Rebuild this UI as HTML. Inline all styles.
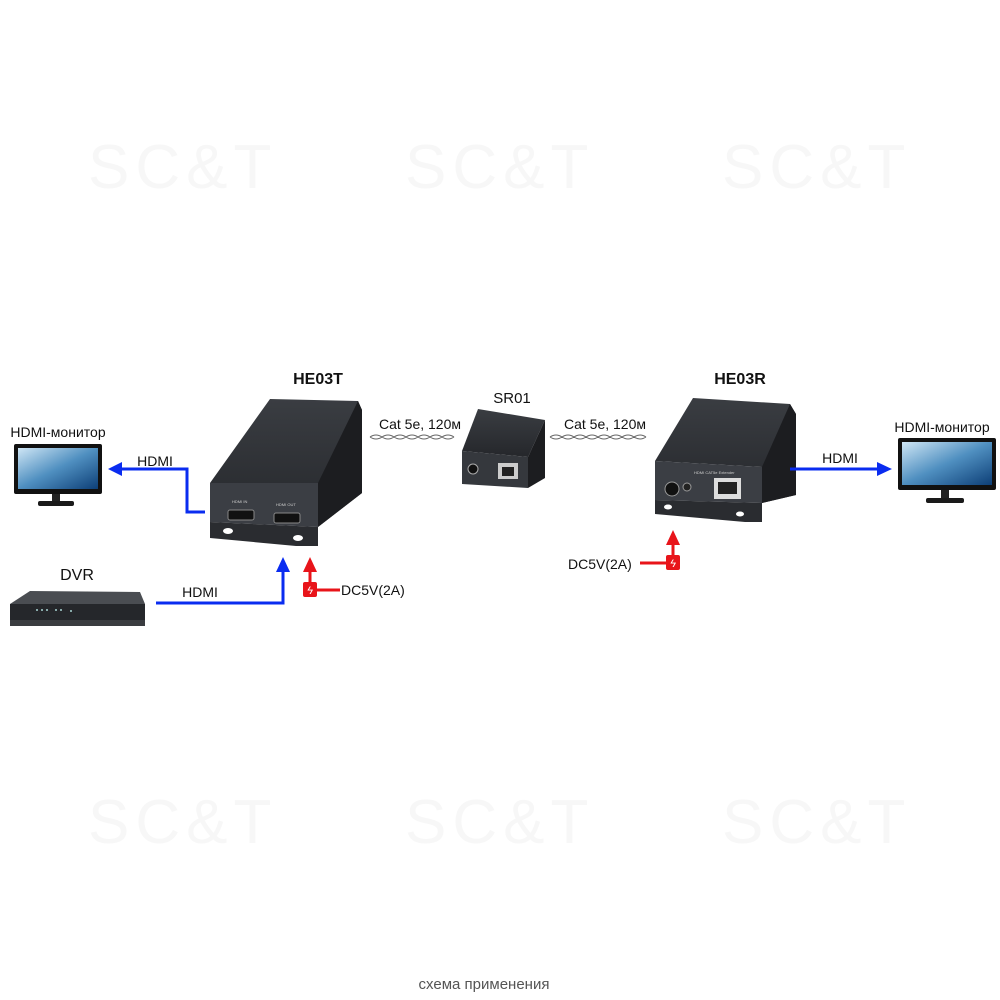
<!DOCTYPE html>
<html><head><meta charset="utf-8"><style>
html,body{margin:0;padding:0;background:#fff}
svg{display:block}
text{font-family:"Liberation Sans",sans-serif}
</style></head><body>
<svg width="1000" height="1000" viewBox="0 0 1000 1000" xmlns="http://www.w3.org/2000/svg">
<defs>
<linearGradient id="scr" x1="0" y1="0" x2="1" y2="1">
<stop offset="0" stop-color="#cfe6f5"/><stop offset="0.5" stop-color="#4f8fc0"/><stop offset="1" stop-color="#0d3f77"/>
</linearGradient>
<linearGradient id="top" x1="0" y1="0" x2="0" y2="1">
<stop offset="0" stop-color="#3a3d42"/><stop offset="1" stop-color="#25272b"/>
</linearGradient>
</defs>
<!-- watermarks -->
<g fill="#f7f7f7" font-size="62" letter-spacing="6">
<text x="88" y="188">SC&amp;T</text>
<text x="405" y="188">SC&amp;T</text>
<text x="722" y="188">SC&amp;T</text>
<text x="88" y="843">SC&amp;T</text>
<text x="405" y="843">SC&amp;T</text>
<text x="722" y="843">SC&amp;T</text>
</g>

<!-- left monitor -->
<text x="58" y="437" font-size="14" text-anchor="middle" fill="#111">HDMI-монитор</text>
<rect x="14" y="444" width="88" height="50" rx="2" fill="#111"/>
<rect x="18" y="448" width="80" height="41" fill="url(#scr)"/>
<rect x="52" y="494" width="8" height="8" fill="#222"/>
<rect x="38" y="501" width="36" height="5" rx="2" fill="#1a1a1a"/>

<!-- HE03T -->
<text x="318" y="384" font-size="16" font-weight="bold" text-anchor="middle" fill="#111">HE03T</text>
<polygon points="270,399 358,401 362,410 362,493 318,527 318,483 210,483" fill="url(#top)"/>
<polygon points="358,401 362,410 362,493 318,527 318,483" fill="#1c1d20"/>
<polygon points="210,483 318,483 318,527 210,522" fill="#3b3e44"/>
<polygon points="210,522 318,527 318,546 296,546 210,538" fill="#2a2c30"/>
<ellipse cx="228" cy="531" rx="5" ry="3" fill="#fff"/>
<ellipse cx="298" cy="538" rx="5" ry="3" fill="#fff"/>
<rect x="228" y="510" width="26" height="10" rx="2" fill="#111" stroke="#888" stroke-width="1"/>
<rect x="274" y="513" width="26" height="10" rx="2" fill="#111" stroke="#888" stroke-width="1"/>
<text x="232" y="503" font-size="4" fill="#ccc">HDMI IN</text>
<text x="276" y="506" font-size="4" fill="#ccc">HDMI OUT</text>

<!-- blue arrow to left monitor -->
<polyline points="205,512 187,512 187,469 118,469" fill="none" stroke="#0a2cf0" stroke-width="3"/>
<polygon points="108,469 122,462 122,476" fill="#0a2cf0"/>
<text x="155" y="466" font-size="14" text-anchor="middle" fill="#111">HDMI</text>

<!-- DVR -->
<text x="77" y="580" font-size="16" text-anchor="middle" fill="#111">DVR</text>
<polygon points="30,591 140,592 145,604 10,604" fill="#4a4d52"/>
<polygon points="10,604 145,604 145,622 10,620" fill="#25272b"/>
<rect x="10" y="620" width="135" height="6" fill="#3a3c40"/>
<g fill="#8aa"><rect x="36" y="609" width="2" height="2"/><rect x="41" y="609" width="2" height="2"/><rect x="46" y="609" width="2" height="2"/><rect x="55" y="609" width="2" height="2"/><rect x="60" y="609" width="2" height="2"/><rect x="70" y="610" width="2" height="2"/></g>

<!-- blue HDMI line to HE03T -->
<polyline points="156,603 283,603 283,570" fill="none" stroke="#0a2cf0" stroke-width="3"/>
<polygon points="283,557 276,572 290,572" fill="#0a2cf0"/>
<text x="200" y="597" font-size="14" text-anchor="middle" fill="#111">HDMI</text>

<!-- red power left -->
<line x1="310" y1="585" x2="310" y2="570" stroke="#e8141a" stroke-width="3"/>
<polygon points="310,557 303,572 317,572" fill="#e8141a"/>
<rect x="303" y="582" width="14" height="15" rx="2" fill="#e8141a"/>
<text x="310" y="594" font-size="11" fill="#fff" text-anchor="middle" font-style="italic">ϟ</text>
<line x1="317" y1="590" x2="340" y2="590" stroke="#e8141a" stroke-width="3"/>
<text x="341" y="595" font-size="14" fill="#111">DC5V(2A)</text>

<!-- cables -->
<text x="420" y="429" font-size="14" text-anchor="middle" fill="#111">Cat 5e, 120м</text>
<text x="605" y="429" font-size="14" text-anchor="middle" fill="#111">Cat 5e, 120м</text>
<path d="M370,437 q6,-4 12,0 t12,0 t12,0 t12,0 t12,0 t12,0 t12,0 M370,437 q6,4 12,0 t12,0 t12,0 t12,0 t12,0 t12,0 t12,0" fill="none" stroke="#666" stroke-width="1"/>
<path d="M550,437 q6,-4 12,0 t12,0 t12,0 t12,0 t12,0 t12,0 t12,0 t12,0 M550,437 q6,4 12,0 t12,0 t12,0 t12,0 t12,0 t12,0 t12,0 t12,0" fill="none" stroke="#666" stroke-width="1"/>

<!-- SR01 -->
<text x="512" y="403" font-size="15" text-anchor="middle" fill="#111">SR01</text>
<polygon points="478,409 545,420 528,457 462,451" fill="url(#top)"/>
<polygon points="545,420 545,478 528,488 528,457" fill="#1c1d20"/>
<polygon points="462,451 528,457 528,488 462,484" fill="#35383d"/>
<circle cx="473" cy="469" r="5" fill="#111" stroke="#aaa"/>
<rect x="498" y="463" width="20" height="16" fill="#ccc"/>
<rect x="502" y="467" width="12" height="9" fill="#222"/>

<!-- HE03R -->
<text x="740" y="384" font-size="16" font-weight="bold" text-anchor="middle" fill="#111">HE03R</text>
<polygon points="693,398 790,404 796,414 796,495 762,503 762,467 655,461" fill="url(#top)"/>
<polygon points="790,404 796,414 796,495 762,503 762,467" fill="#1c1d20"/>
<polygon points="655,461 762,467 762,503 655,500" fill="#3b3e44"/>
<polygon points="655,500 762,503 762,522 745,522 655,514" fill="#2a2c30"/>
<ellipse cx="668" cy="507" rx="4" ry="2.5" fill="#fff"/>
<ellipse cx="740" cy="514" rx="4" ry="2.5" fill="#fff"/>
<circle cx="672" cy="489" r="7" fill="#111" stroke="#999"/>
<circle cx="687" cy="487" r="4" fill="#222" stroke="#999"/>
<rect x="714" y="478" width="27" height="21" fill="#ddd"/>
<rect x="718" y="482" width="19" height="12" fill="#222"/>
<text x="694" y="474" font-size="4" fill="#ccc">HDMI CAT5e Extender</text>

<!-- blue arrow right -->
<line x1="790" y1="469" x2="878" y2="469" stroke="#0a2cf0" stroke-width="3"/>
<polygon points="892,469 877,462 877,476" fill="#0a2cf0"/>
<text x="840" y="463" font-size="14" text-anchor="middle" fill="#111">HDMI</text>

<!-- right monitor -->
<text x="942" y="432" font-size="14" text-anchor="middle" fill="#111">HDMI-монитор</text>
<rect x="898" y="438" width="98" height="52" rx="2" fill="#111"/>
<rect x="902" y="442" width="90" height="43" fill="url(#scr)"/>
<rect x="941" y="490" width="8" height="9" fill="#222"/>
<rect x="926" y="498" width="38" height="5" rx="2" fill="#1a1a1a"/>

<!-- red power right -->
<line x1="673" y1="556" x2="673" y2="543" stroke="#e8141a" stroke-width="3"/>
<polygon points="673,530 666,545 680,545" fill="#e8141a"/>
<rect x="666" y="555" width="14" height="15" rx="2" fill="#e8141a"/>
<text x="673" y="567" font-size="11" fill="#fff" text-anchor="middle" font-style="italic">ϟ</text>
<line x1="640" y1="563" x2="666" y2="563" stroke="#e8141a" stroke-width="3"/>
<text x="568" y="569" font-size="14" fill="#111">DC5V(2A)</text>

<!-- footer -->
<text x="484" y="989" font-size="15" text-anchor="middle" fill="#555">схема применения</text>
</svg>
</body></html>
